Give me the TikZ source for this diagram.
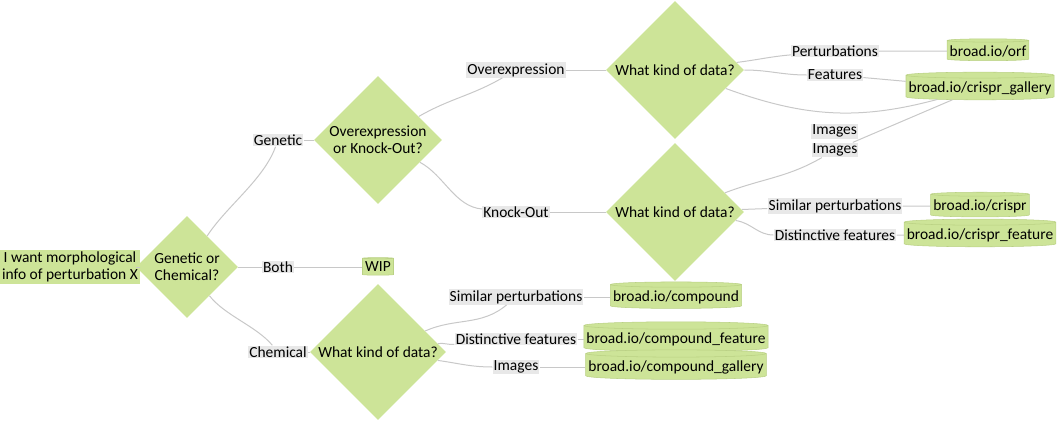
\documentclass[tikz,border=0pt]{standalone}
\usepackage{fontspec}
\setmainfont{Carlito}
\usetikzlibrary{shapes.geometric}
\definecolor{nodegreen}{HTML}{CDE498}
\definecolor{labelgray}{HTML}{E8E8E8}
\definecolor{linegray}{HTML}{C8C8C8}
\definecolor{rimgreen}{HTML}{BAD184}

\begin{document}
\begin{tikzpicture}[x=0.75pt,y=-0.75pt,font=\fontsize{11.6}{12.75}\selectfont,
	box/.style={fill=nodegreen,align=center,inner xsep=1.5pt,inner ysep=1.5pt},
	choice/.style={diamond,fill=nodegreen,align=center,inner sep=0pt,aspect=1},
	link/.style={cylinder,shape border rotate=90,aspect=0.04,fill=nodegreen,draw=rimgreen,line width=0.4pt,inner xsep=2pt,inner ysep=2.2pt},
	answer/.style={fill=labelgray,inner sep=0.8pt},
	every edge/.style={draw=linegray,line width=0.75pt}]
\useasboundingbox (0,0) rectangle (1064,425);

\node[box]								(q_start)	at (70,267)		{I want morphological\\info of perturbation X};
\node[choice,minimum size=76.5pt]		(q_gc)		at (187,267)	{Genetic or\\Chemical?};
\node[choice,minimum size=96pt]			(q_ok)		at (378,140)	{Overexpression\\or Knock-Out?};
\node[choice,minimum size=102pt]		(q_chem)	at (378,352)	{What kind of data?};
\node[choice,minimum size=103.5pt]		(q_oe)		at (675,70)		{What kind of data?};
\node[choice,minimum size=103.5pt]		(q_ko)		at (675,212)	{What kind of data?};

\node[link]								(db_wip)		at (378,267)	{WIP};
\node[link]								(db_orf)		at (988,51)		{broad.io/orf};
\node[link]								(db_gallery)	at (980,88)		{broad.io/crispr\_gallery};
\node[link]								(db_crispr)		at (980,206)	{broad.io/crispr};
\node[link]								(db_crisprf)	at (980,235)	{broad.io/crispr\_feature};
\node[link]								(db_cpd)		at (676,297)	{broad.io/compound};
\node[link]								(db_cpdf)		at (676,339)	{broad.io/compound\_feature};
\node[link]								(db_cpdg)		at (676,367)	{broad.io/compound\_gallery};

\node[answer]							(l_genetic)	at (278,140)	{Genetic};
\node[answer]							(l_both)	at (278,267)	{Both};
\node[answer]							(l_chem)	at (278,352)	{Chemical};
\node[answer]							(l_oe)		at (516,70)		{Overexpression};
\node[answer]							(l_ko)		at (516,212)	{Knock-Out};
\node[answer]							(l_pert)	at (835,51)		{Perturbations};
\node[answer]							(l_feat)	at (835,75)		{Features};
\node[answer]							(l_img2)	at (835,150)	{Images};
\node[answer]							(l_sim1)	at (835,206)	{Similar perturbations};
\node[answer]							(l_dist1)	at (835,235)	{Distinctive features};
\node[answer]							(l_sim2)	at (516,297)	{Similar perturbations};
\node[answer]							(l_dist2)	at (516,339)	{Distinctive features};
\node[answer]							(l_img3)	at (516,367)	{Images};

\path
(q_start)		edge										(q_gc)
(q_gc)			edge[out=57, in=-110, looseness=0.8]		(l_genetic)
				edge										(l_both)
				edge[out=-52, in=130, looseness=0.8]		(l_chem)
(l_genetic)		edge										(q_ok)
(l_both)		edge										(db_wip)
(l_chem)		edge										(q_chem)

(q_ok)			edge[out=30, in=-150]						(l_oe)
				edge[out=-28, in=175, looseness=0.9]		(l_ko)
(l_oe)			edge										(q_oe)
(l_ko)			edge										(q_ko)

(q_oe)			edge[out=7, in=185]							(l_pert)
				edge[out=0, in=180]							(l_feat)
				edge[out=-20, in=-165]	node[answer, below=8pt, xshift=3pt]	{Images}	(db_gallery)
(l_pert)		edge										(db_orf)
(l_feat)		edge										(db_gallery)

(q_ko)			edge[out=21, in=-150]						(l_img2)
				edge										(l_sim1)
				edge[out=-8, in=180]						(l_dist1)
(l_img2)		edge										(db_gallery)
(l_sim1)		edge										(db_crispr)
(l_dist1)		edge										(db_crisprf)

(q_chem)		edge[out=24, in=-140]						(l_sim2)
				edge[out=8, in=185]							(l_dist2)
				edge[out=-8, in=180]						(l_img3)
(l_sim2)		edge										(db_cpd)
(l_dist2)		edge										(db_cpdf)
(l_img3)		edge										(db_cpdg)
;
\end{tikzpicture}
\end{document}
